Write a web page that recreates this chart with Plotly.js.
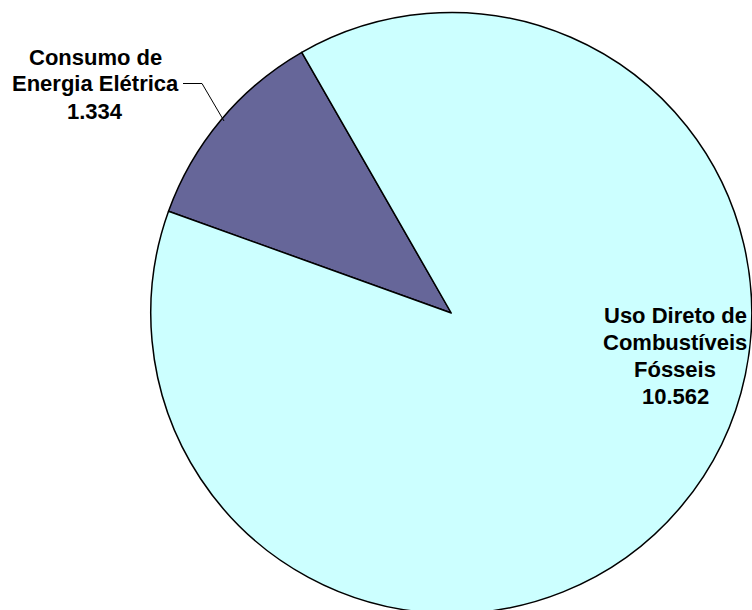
<!DOCTYPE html>
<html>
<head>
<meta charset="utf-8">
<script src="https://cdn.plot.ly/plotly-3.0.1.min.js"></script>
<style>
html,body{margin:0;padding:0;overflow:hidden;background:#fff;}
#chart{width:752px;height:640px;}
</style>
</head>
<body>
<div id="chart"></div>
<script>
const categories = ["Consumo de Energia Elétrica", "Uso Direto de Combustíveis Fósseis"];
const values = [1334, 10562];
const valueLabels = ["1.334", "10.562"];
const labelLines = [["Consumo de", "Energia Elétrica"], ["Uso Direto de", "Combustíveis", "Fósseis"]];
const colors = ["#666699", "#CCFFFF"];

const W = 752, H = 640;
const px = x => x / W;
const py = y => (H - y) / H;

const trace = {
  type: "pie",
  labels: categories,
  values: values,
  sort: false,
  direction: "clockwise",
  rotation: -70.2,
  marker: {colors: colors, line: {color: "#000000", width: 1.5}},
  textinfo: "none",
  hoverinfo: "label+value",
  showlegend: false,
  domain: {x: [px(150.5), 1], y: [py(613.5), py(12.5)]}
};

const fnt = {family: "Liberation Sans, Arial, sans-serif", size: 22, color: "#000"};

const annotations = [];
const blocks = [
  {lines: labelLines[0].concat([valueLabels[0]]), cx: 95, y0: 57},
  {lines: labelLines[1].concat([valueLabels[1]]), cx: 675, y0: 315}
];
blocks.forEach(b => {
  b.lines.forEach((t, i) => {
    annotations.push({text: "<b>" + t + "</b>", xref: "paper", yref: "paper",
      x: px(b.cx), y: py(b.y0 + 27 * i), xanchor: "center", yanchor: "middle",
      showarrow: false, align: "center", font: fnt});
  });
});

const layout = {
  width: W, height: H,
  margin: {l: 0, r: 0, t: 0, b: 0},
  paper_bgcolor: "#ffffff",
  showlegend: false,
  annotations: annotations,
  shapes: [
    {type: "path", xref: "paper", yref: "paper",
     path: "M " + px(183) + " " + py(83.5) + " L " + px(202) + " " + py(83.5) + " L " + px(224) + " " + py(121),
     line: {color: "#000", width: 1}}
  ]
};

Plotly.newPlot("chart", [trace], layout, {displayModeBar: false, staticPlot: true});
</script>
</body>
</html>
